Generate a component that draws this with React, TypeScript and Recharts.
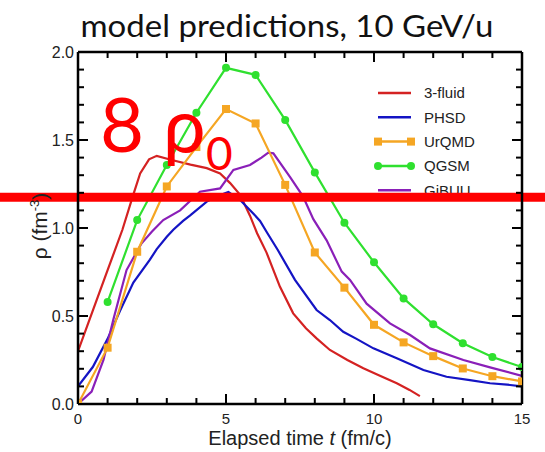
import React from "react"
import { LineChart, Line, XAxis, YAxis, ReferenceLine } from "recharts"

// time grid used by UrQMD and QGSM (one marker per fm/c)
const gridT = [0, 1, 2, 3, 4, 5, 6, 7, 8, 9, 10, 11, 12, 13, 14, 15]
const urqmdRho = [0, 0.32, 0.865, 1.236, 1.46, 1.676, 1.594, 1.245, 0.861, 0.661, 0.45, 0.35, 0.272, 0.202, 0.158, 0.128]
const qgsmRho = [null, 0.58, 1.045, 1.358, 1.655, 1.91, 1.87, 1.614, 1.316, 1.03, 0.805, 0.6, 0.453, 0.345, 0.267, 0.21]

// 3-fluid
const fluidT = [0, 0.5, 1, 1.5, 1.85, 2.1, 2.4, 2.66, 3.2, 3.8, 4.35, 4.8, 5.14, 5.47, 5.81, 6.05, 6.37, 6.82, 7.27, 7.7, 8.06, 8.51, 9.1, 9.64, 10.2, 10.77, 11.2, 11.55]
const fluidRho = [0.3, 0.53, 0.76, 0.99, 1.18, 1.31, 1.39, 1.41, 1.385, 1.36, 1.34, 1.31, 1.255, 1.19, 1.07, 0.97, 0.86, 0.667, 0.515, 0.43, 0.373, 0.307, 0.25, 0.203, 0.16, 0.118, 0.08, 0.045]

// PHSD
const phsdT = [0, 0.5, 1, 1.42, 1.87, 2.43, 2.66, 3.0, 3.22, 3.55, 3.78, 4.35, 4.7, 5.08, 5.47, 5.92, 6.15, 6.4, 6.75, 7.33, 8.06, 8.51, 8.96, 9.41, 9.98, 10.77, 11.67, 12.45, 13.24, 13.92, 14.5, 15]
const phsdRho = [0.1, 0.21, 0.37, 0.53, 0.69, 0.82, 0.88, 0.95, 0.99, 1.04, 1.07, 1.15, 1.18, 1.205, 1.16, 1.083, 1.04, 0.97, 0.875, 0.705, 0.534, 0.477, 0.41, 0.37, 0.316, 0.26, 0.193, 0.155, 0.136, 0.118, 0.11, 0.1]

// GiBUU
const gibuuT = [0, 0.46, 0.86, 1.19, 1.64, 2.15, 2.5, 2.88, 3.45, 4.12, 4.8, 5.25, 5.81, 6.2, 6.43, 6.6, 7.16, 7.6, 7.95, 8.4, 8.91, 9.19, 9.75, 10.54, 11.22, 11.89, 13.02, 13.92, 15]
const gibuuRho = [0, 0.07, 0.25, 0.477, 0.761, 0.913, 0.98, 1.045, 1.1, 1.206, 1.225, 1.33, 1.358, 1.4, 1.428, 1.424, 1.29, 1.18, 1.05, 0.93, 0.752, 0.705, 0.57, 0.458, 0.392, 0.316, 0.25, 0.208, 0.16]

const xTicks = [0, 1, 2, 3, 4, 5, 6, 7, 8, 9, 10, 11, 12, 13, 14, 15]
const yTicks = [0, 0.1, 0.2, 0.3, 0.4, 0.5, 0.6, 0.7, 0.8, 0.9, 1.0, 1.1, 1.2, 1.3, 1.4, 1.5, 1.6, 1.7, 1.8, 1.9, 2.0]
const densityMark = 1.175

const legendItems = [
  { name: "3-fluid", color: "#d42222", marker: "none" },
  { name: "PHSD", color: "#1414c4", marker: "none" },
  { name: "UrQMD", color: "#f5a623", marker: "square" },
  { name: "QGSM", color: "#2fe02f", marker: "circle" },
  { name: "GiBUU", color: "#8a1fb8", marker: "none" },
]

const gridData = gridT.map((t, i) => ({ t, urqmd: urqmdRho[i], qgsm: qgsmRho[i] }))
const fluidData = fluidT.map((t, i) => ({ t, rho: fluidRho[i] }))
const phsdData = phsdT.map((t, i) => ({ t, rho: phsdRho[i] }))
const gibuuData = gibuuT.map((t, i) => ({ t, rho: gibuuRho[i] }))

const FONT = "'Liberation Sans', Arial, sans-serif"
const MAJOR = 10
const MINOR = 6
const isMajorX = (t: number) => t % 5 === 0
const isMajorY = (v: number) => Math.round(v * 10) % 5 === 0

// plot frame, matches the margins / axis sizes given to LineChart below
const W = 545
const H = 452
const PL = 78
const PT = 52
const PR = W - 23
const PB = H - 48

function BottomLabel(p: any) {
  if (!isMajorX(p.payload.value)) return <g />
  return (
    <text x={p.x} y={p.y + 9} dy="0.71em" textAnchor="middle" fontSize={15} fill="#222" fontFamily={FONT}>
      {p.payload.value}
    </text>
  )
}

function LeftLabel(p: any) {
  if (!isMajorY(p.payload.value)) return <g />
  return (
    <text x={p.x - 4} y={p.y} dy="0.355em" textAnchor="end" fontSize={16} fill="#222" fontFamily={FONT}>
      {p.payload.value.toFixed(1)}
    </text>
  )
}

function TopTick(p: any) {
  const len = isMajorX(p.payload.value) ? MAJOR : MINOR
  return <path d={`M${p.x},${p.y}V${p.y + len}`} stroke="#000" strokeWidth={2} fill="none" />
}

function RightTick(p: any) {
  const len = isMajorY(p.payload.value) ? MAJOR : MINOR
  return <path d={`M${p.x},${p.y}H${p.x - len}`} stroke="#000" strokeWidth={2} fill="none" />
}

function SquareDot(p: any) {
  if (p.cx == null || p.cy == null || p.value == null) return <g key={p.index} />
  return <rect key={p.index} x={p.cx - 4} y={p.cy - 4} width={8} height={8} fill="#f5a623" />
}

function Legend5() {
  return (
    <g fontFamily={FONT}>
      {legendItems.map((it, i) => {
        const y = 93 + i * 24.3
        return (
          <g key={it.name}>
            <line x1={378} y1={y} x2={411} y2={y} stroke={it.color} strokeWidth={2.5} />
            {it.marker === "square" && (
              <>
                <rect x={374} y={y - 4} width={8} height={8} fill={it.color} />
                <rect x={407} y={y - 4} width={8} height={8} fill={it.color} />
              </>
            )}
            {it.marker === "circle" && (
              <>
                <circle cx={378} cy={y} r={4} fill={it.color} />
                <circle cx={411} cy={y} r={4} fill={it.color} />
              </>
            )}
            <text x={424} y={y} dy="0.36em" fontSize={15} fill="#222">
              {it.name}
            </text>
          </g>
        )
      })}
      <text x={300} y={445} textAnchor="middle" fontSize={20} fill="#222">
        Elapsed time <tspan fontStyle="italic">t</tspan> (fm/c)
      </text>
    </g>
  )
}

// inward ticks of the bottom and left frame sides, laid over the chart
function FrameTicks() {
  const sx = (PR - PL) / 15
  const sy = (PB - PT) / 2
  return (
    <g stroke="#000" strokeWidth={2}>
      {xTicks.map((t) => (
        <line key={"x" + t} x1={PL + t * sx} y1={PB} x2={PL + t * sx} y2={PB - (isMajorX(t) ? MAJOR : MINOR)} />
      ))}
      {yTicks.map((v) => (
        <line key={"y" + v} x1={PL} y1={PB - v * sy} x2={PL + (isMajorY(v) ? MAJOR : MINOR)} y2={PB - v * sy} />
      ))}
    </g>
  )
}

const axisLine = { stroke: "#000", strokeWidth: 2.5 }

export default function App() {
  return (
    <div style={{ position: "absolute", left: 0, top: 0, width: W, height: H, background: "#fff" }}>
      <LineChart
        width={W}
        height={H}
        data={gridData}
        margin={{ top: PT - 1, right: W - PR - 1, bottom: 0, left: 0 }}
      >
        <XAxis
          dataKey="t"
          type="number"
          domain={[0, 15]}
          ticks={xTicks}
          interval={0}
          height={H - PB}
          tickSize={0}
          tickMargin={0}
          tickLine={false}
          axisLine={axisLine}
          tick={(p: any) => <BottomLabel {...p} />}
          allowDataOverflow
        />
        <XAxis
          xAxisId="top"
          orientation="top"
          type="number"
          domain={[0, 15]}
          ticks={xTicks}
          interval={0}
          height={1}
          tickSize={0}
          tickMargin={0}
          tickLine={false}
          axisLine={axisLine}
          tick={(p: any) => <TopTick {...p} />}
          allowDataOverflow
        />
        <YAxis
          type="number"
          domain={[0, 2]}
          ticks={yTicks}
          interval={0}
          width={PL}
          tickSize={0}
          tickMargin={0}
          tickLine={false}
          axisLine={axisLine}
          tick={(p: any) => <LeftLabel {...p} />}
          allowDataOverflow
        />
        <YAxis
          yAxisId="right"
          orientation="right"
          type="number"
          domain={[0, 2]}
          ticks={yTicks}
          interval={0}
          width={1}
          tickSize={0}
          tickMargin={0}
          tickLine={false}
          axisLine={axisLine}
          tick={(p: any) => <RightTick {...p} />}
          allowDataOverflow
        />
        <Line data={fluidData} dataKey="rho" type="linear" stroke="#d42222" strokeWidth={2.2} dot={false} isAnimationActive={false} />
        <Line data={phsdData} dataKey="rho" type="linear" stroke="#1414c4" strokeWidth={2.2} dot={false} isAnimationActive={false} />
        <Line data={gibuuData} dataKey="rho" type="linear" stroke="#8a1fb8" strokeWidth={2.2} dot={false} isAnimationActive={false} />
        <Line dataKey="urqmd" type="linear" stroke="#f5a623" strokeWidth={2.2} dot={(p: any) => <SquareDot {...p} />} isAnimationActive={false} />
        <Line dataKey="qgsm" type="linear" stroke="#2fe02f" strokeWidth={2.2} dot={{ r: 4, fill: "#2fe02f", stroke: "#2fe02f", strokeWidth: 0 }} isAnimationActive={false} />
        <Legend5 />
        <ReferenceLine
          segment={[{ x: -4, y: densityMark }, { x: 18, y: densityMark }]}
          stroke="#ff0000"
          strokeWidth={9}
          ifOverflow="visible"
        />
      </LineChart>
      <svg width={W} height={H} style={{ position: "absolute", left: 0, top: 0, pointerEvents: "none" }}>
        <FrameTicks />
        <text transform="translate(47,226) rotate(-90)" textAnchor="middle" fontSize={21} fill="#222" fontFamily={FONT}>
          ρ (fm<tspan dy={-8} fontSize={13}>-3</tspan>
          <tspan dy={8}>)</tspan>
        </text>
        <text x={287} y={37} textAnchor="middle" fontSize={31} textLength={413} lengthAdjust="spacingAndGlyphs" fill="#111" fontFamily="Lato, 'Open Sans', sans-serif">
          model predictions, 10 GeV/u
        </text>
        <g fill="#ff0000" fontFamily="Lato, 'Open Sans', sans-serif">
          <text x={100} y={152} fontSize={76}>8</text>
          <text x={163} y={153} fontSize={76}>ρ</text>
          <text x={206} y={170} fontSize={46}>0</text>
        </g>
      </svg>
    </div>
  )
}
